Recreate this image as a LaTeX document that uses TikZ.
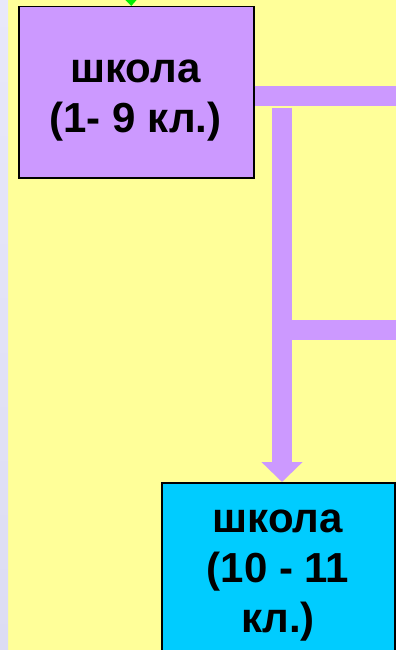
\documentclass[tikz,border=0pt]{standalone}
\usepackage{fontspec}
\setmainfont{Liberation Sans}
\usetikzlibrary{arrows.meta,positioning}

\definecolor{bgyellow}{HTML}{FFFF99}
\definecolor{stripblue}{HTML}{E8E8FA}
\definecolor{stripblue2}{HTML}{DCDCF4}
\definecolor{lilac}{HTML}{CC99FF}
\definecolor{skyblue}{HTML}{00CCFF}
\definecolor{tipgreen}{HTML}{00EE00}

\begin{document}
\begin{tikzpicture}[x=1pt,y=-1pt,
  school/.style={draw=black,rectangle,inner sep=0pt,anchor=north west},
  lbl/.style={font=\fontsize{42}{50}\selectfont\bfseries,align=center,inner sep=0pt},
  bar/.style={draw=lilac,line width=20pt}]

  \useasboundingbox (0,0) rectangle (396,650);
  \clip (0,0) rectangle (396,650);
  \fill[bgyellow] (0,0) rectangle (396,650);
  \shade[top color=stripblue,bottom color=stripblue2] (0,0) rectangle (8,650);

  % the two schools
  \node[school,fill=lilac,line width=1.5pt,minimum width=235pt,minimum height=171pt] (school9) at (18,6) {};
  \node[lbl,anchor=base] (t9) at (135.5,132) {школа\\(1- 9 кл.)};

  \node[school,fill=skyblue,line width=2pt,minimum width=233pt,minimum height=220pt] (school11) at (161,482) {};
  \node[lbl,anchor=base] (t11) at (278,632) {школа\\(10 - 11\\кл.)};

  % connectors
  \coordinate (gtop) at (130.5,-20);
  \draw[tipgreen,line width=1pt,-{Triangle[width=11pt,length=6pt]}] (gtop) -- ([xshift=-5pt]school9.north);

  \coordinate (exit1) at (396,96);
  \draw[bar] (school9.east |- exit1) -- (exit1);

  \coordinate (drop) at (282,108);
  \draw[bar,-{Triangle[width=40pt,length=20pt]}] (drop) -- (drop |- school11.north);

  \coordinate (exit2) at (396,329.5);
  \draw[bar] (drop |- exit2) -- (exit2);

\end{tikzpicture}
\end{document}
